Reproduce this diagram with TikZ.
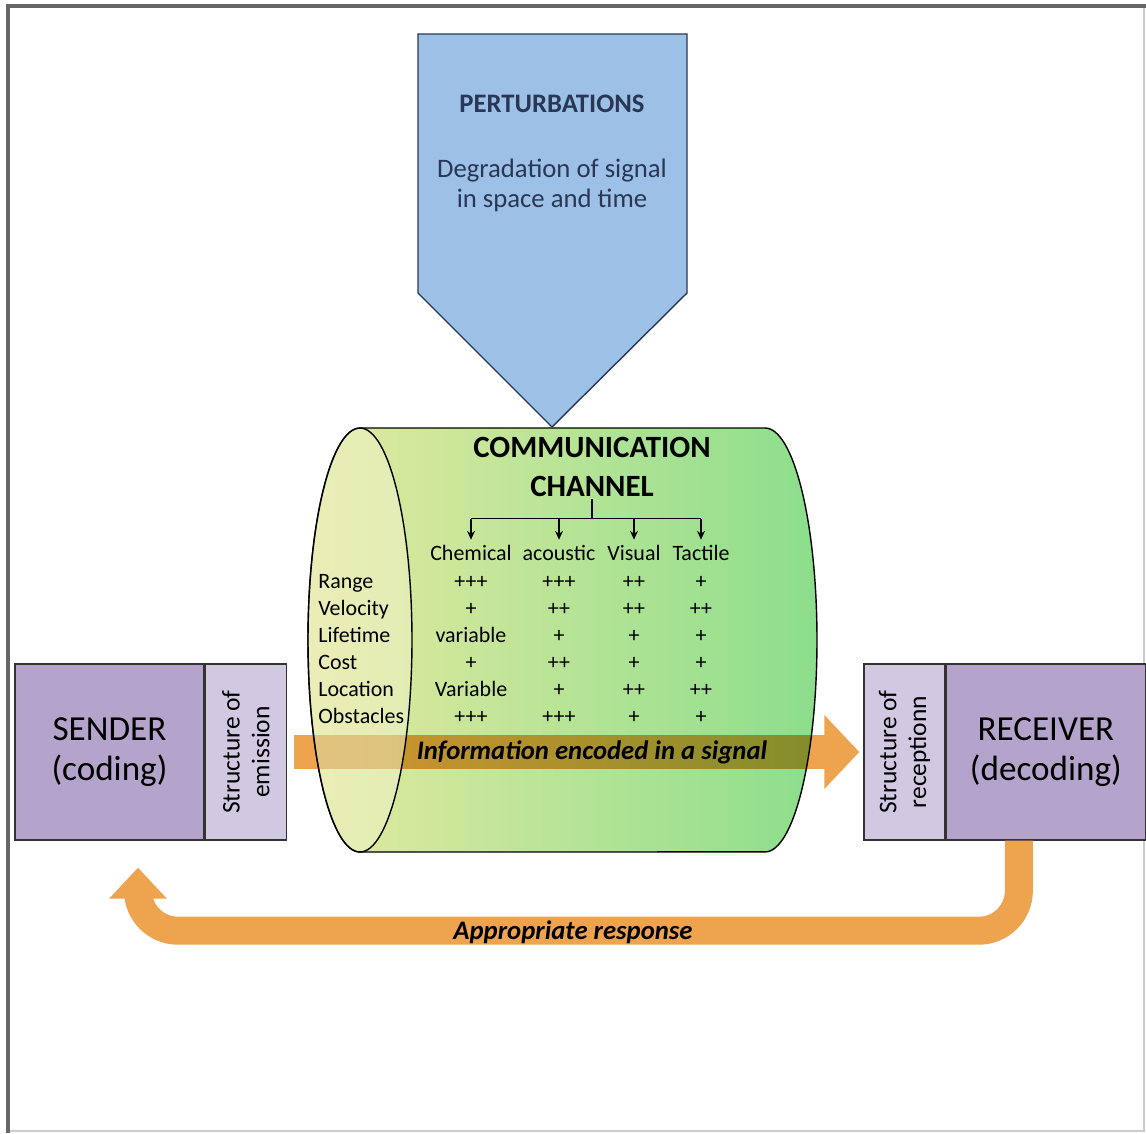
\documentclass[tikz,border=0pt]{standalone}
\usepackage{fontspec}
\setmainfont{Carlito}
\usetikzlibrary{shapes,positioning,fit,calc,arrows.meta}

\definecolor{pertblue}{RGB}{157,193,230}
\definecolor{pertline}{RGB}{40,55,85}
\definecolor{boxdark}{RGB}{180,164,203}
\definecolor{boxlight}{RGB}{209,200,225}
\definecolor{sigorange}{RGB}{238,163,78}
\definecolor{chanleft}{RGB}{228,234,160}
\definecolor{chanright}{RGB}{140,222,140}
\definecolor{chanface}{RGB}{242,242,205}

\begin{document}
\begin{tikzpicture}[x=0.02cm, y=-0.02cm]

        % Styles of the boxes, the arrows and the texts
        \tikzset{
            tabtxt/.style={font=\fontsize{12.5}{15}\selectfont, inner sep=0pt},
            boxtxt/.style={font=\fontsize{20}{23}\selectfont, align=center},
            sidetxt/.style={font=\fontsize{14.5}{17}\selectfont, align=center, rotate=90},
            box/.style={draw=black!80, line width=0.8pt, minimum height=3.52cm, inner sep=0pt},
            sigarrow/.style={sigorange, line width=0.68cm,
                -{Triangle[width=1.44cm, length=0.7cm]}},
            resparrow/.style={sigorange, line width=0.56cm, rounded corners=0.8cm,
                -{Triangle[width=1.12cm, length=0.62cm]}},
            bolditxt/.style={font=\bfseries\itshape\fontsize{15.2}{17}\selectfont}
        }

        % Frame of the figure
        \fill[white] (0,0) rectangle (1146,1133);
        \useasboundingbox (0,0) rectangle (1146,1133);
        \draw[black!20, line width=0.6pt] (8,1131) -- (1144,1131) -- (1144,6);
        \draw[black!60, line width=2.3pt] (8,1133) -- (8,6) -- (1146,6);

        % Sender and receiver
        \node[box, fill=boxdark, minimum width=3.78cm, boxtxt] (SEND) at (109.5,752)
        {SENDER\\(coding)};
        \node[box, fill=boxlight, minimum width=1.62cm, anchor=west] (EMIT) at (SEND.east) {};
        \node[sidetxt] (EMITT) at (EMIT.center) {Structure of\\emission};

        \node[box, fill=boxlight, minimum width=1.62cm] (RECP) at (904.5,752) {};
        \node[sidetxt] (RECPT) at (RECP.center) {Structure of\\receptionn};
        \node[box, fill=boxdark, minimum width=3.98cm, anchor=west, boxtxt] (RECV) at (RECP.east)
        {RECEIVER\\(decoding)};

        % Signal from the sender to the receiver
        \draw[sigarrow, shorten <=0.14cm, shorten >=0.08cm] (EMIT.east) -- (RECP.west);

        % Channel seen as a cylinder
        \path[draw=black, line width=0.8pt, left color=chanleft, right color=chanright,
            blend mode=multiply]
            (360,428) -- (765,428)
            arc[start angle=90, end angle=-90, x radius=1.04cm, y radius=4.24cm]
            -- (360,852)
            arc[start angle=270, end angle=90, x radius=1.04cm, y radius=4.24cm] -- cycle;
        \draw[line width=0.8pt, fill=chanface, fill opacity=0.5]
            (360,640) ellipse[x radius=1.04cm, y radius=4.24cm];

        \node[bolditxt] (SIG) at (592,752) {Information encoded in a signal};

        % Perturbations
        \draw[fill=pertblue, draw=pertline, line width=0.8pt]
            (418,34) -- (687,34) -- (687,293) -- (552,427) -- (418,293) -- cycle;
        \node[font=\bfseries\fontsize{15.2}{17}\selectfont, text=pertline] (PT) at (552,104)
        {PERTURBATIONS};
        \node[font=\fontsize{15.2}{17}\selectfont, align=center, text=pertline] (PD) at (552,185)
        {Degradation of signal\\in space and time};

        % Table of the channels
        \node[font=\bfseries\fontsize{17.6}{22}\selectfont, align=center, inner sep=1pt] (CH)
            at (592,467) {COMMUNICATION\\CHANNEL};
        \node[tabtxt] (C1) at (471,553) {Chemical};
        \node[tabtxt] (C2) at (559,553) {acoustic};
        \node[tabtxt] (C3) at (634,553) {Visual};
        \node[tabtxt] (C4) at (701,553) {Tactile};

        \draw[line width=0.8pt] (CH.south) -- ++(0,20) coordinate (TB);
        \draw[line width=0.8pt] (TB -| C1) -- (TB -| C4);
        \foreach \c in {C1,C2,C3,C4}
            \draw[line width=0.8pt, -{Stealth[length=5pt, width=4.5pt]}]
                (TB -| \c) -- ([yshift=3pt]\c.north);

        \foreach \lab/\va/\vb/\vc/\vd [count=\i] in {Range/+++/+++/++/+,
            Velocity/+/++/++/++, Lifetime/variable/+/+/+, Cost/+/++/+/+,
            Location/Variable/+/++/++, Obstacles/+++/+++/+/+}{
            \node[tabtxt, anchor=base west] (R\i) at (318,561+27*\i) {\lab};
            \node[tabtxt, anchor=base] (V\i a) at (C1.center |- R\i.base) {\va};
            \node[tabtxt, anchor=base] (V\i b) at (C2.center |- R\i.base) {\vb};
            \node[tabtxt, anchor=base] (V\i c) at (C3.center |- R\i.base) {\vc};
            \node[tabtxt, anchor=base] (V\i d) at (C4.center |- R\i.base) {\vd};
        }

        % Response from the receiver back to the sender
        \coordinate (RS) at ($(RECV.south)+(-27,0)$);
        \coordinate (RE) at ($(SEND.south)+(28.5,27)$);
        \draw[resparrow] (RS) -- ++(0,90) -| (RE);
        \node[bolditxt] (RESP) at (573,932) {Appropriate response};

\end{tikzpicture}
\end{document}
